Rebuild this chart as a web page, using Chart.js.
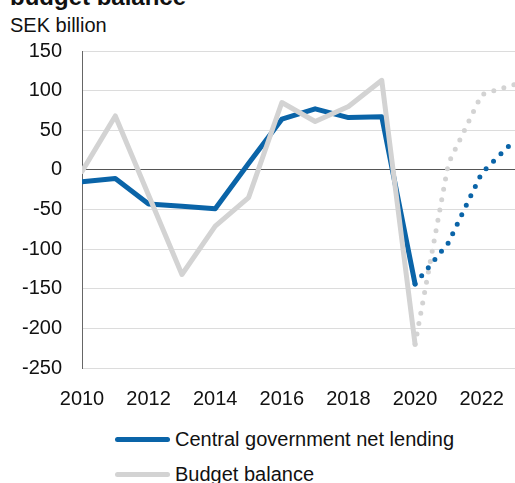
<!DOCTYPE html>
<html>
<head>
<meta charset="utf-8">
<script src="https://cdn.jsdelivr.net/npm/chart.js@4"></script>
<style>
  body { margin: 0; background: #fff; font-family: "Liberation Sans", Arial, sans-serif; color: #111; }
  #wrap { position: relative; width: 515px; height: 483px; overflow: hidden; }
  #chart { position: absolute; left: 0; top: 0; }
  .title { position: absolute; left: 10px; top: -15px; font-size: 24px; line-height: 24px; font-weight: bold; white-space: nowrap; }
  .unit { position: absolute; left: 10px; top: 15px; font-size: 20px; line-height: 20px; }
  .legend-row { position: absolute; left: 115px; height: 20px; font-size: 20px; line-height: 20px; white-space: nowrap; }
  .legend-row .swatch { position: absolute; left: 0; top: 8px; width: 55px; height: 5px; border-radius: 3px; }
  .legend-row .label { position: absolute; left: 60px; top: 0; }
</style>
</head>
<body>
<div id="wrap">
  <div class="title">budget balance</div>
  <div class="unit">SEK billion</div>
  <canvas id="chart" width="515" height="420"></canvas>
  <div class="legend-row" style="top:429px">
    <span class="swatch" style="background:#0a64a8"></span><span class="label">Central government net lending</span>
  </div>
  <div class="legend-row" style="top:464px">
    <span class="swatch" style="background:#d3d3d3"></span><span class="label">Budget balance</span>
  </div>
</div>
<script>
// Outcome years and values, SEK billion
const years = [2010, 2011, 2012, 2013, 2014, 2015, 2016, 2017, 2018, 2019, 2020];
const netLending = [-15, -11, -43, -46, -49, 8, 64, 77, 66, 67, -144];
const budgetBalance = [-2, 68, -32, -132, -71, -35, 85, 61, 80, 113, -220];

// Forecast years (dotted)
const forecastYears = [2020, 2021, 2022, 2023];
const netLendingForecast = [-144, -92, -4, 38];
const budgetBalanceForecast = [-220, 8, 95, 108];

const yTicks = [-250, -200, -150, -100, -50, 0, 50, 100, 150];

const BLUE = '#0a64a8';
const GREY = '#d3d3d3';

function toPoints(xs, ys) {
  return xs.map((x, i) => ({ x: x, y: ys[i] }));
}

const solid = { borderWidth: 5, pointRadius: 0, borderJoinStyle: 'round', borderCapStyle: 'round', tension: 0 };
const dotted = { borderWidth: 5, pointRadius: 0, borderCapStyle: 'round', borderDash: [0, 10.5], tension: 0 };

new Chart(document.getElementById('chart'), {
  type: 'line',
  data: {
    datasets: [
      Object.assign({ label: 'Budget balance', data: toPoints(years, budgetBalance), borderColor: GREY, order: 0 }, solid),
      Object.assign({ label: 'Central government net lending', data: toPoints(years, netLending), borderColor: BLUE, order: 1 }, solid),
      Object.assign({ label: 'Budget balance forecast', data: toPoints(forecastYears, budgetBalanceForecast), borderColor: GREY, order: 3 }, dotted),
      Object.assign({ label: 'Net lending forecast', data: toPoints(forecastYears, netLendingForecast), borderColor: BLUE, order: 2 }, dotted)
    ]
  },
  options: {
    responsive: false,
    animation: false,
    devicePixelRatio: 1,
    layout: { padding: { top: 51, right: 0, bottom: 0, left: 0 } },
    plugins: { legend: { display: false }, tooltip: { enabled: false } },
    scales: {
      x: {
        type: 'linear',
        min: 2010,
        max: 2023,
        grid: { display: false },
        border: { display: false },
        ticks: {
          stepSize: 2,
          includeBounds: false,
          autoSkip: false,
          maxRotation: 0,
          // small tick padding so the scale doesn't pull the right edge in;
          // the taller line height pushes the labels down instead
          padding: 5,
          color: '#111',
          font: { family: '"Liberation Sans", Arial, sans-serif', size: 20, lineHeight: '36px' },
          callback: v => String(v)
        },
        afterFit: s => { s.height = 52; }
      },
      y: {
        min: yTicks[0],
        max: yTicks[yTicks.length - 1],
        afterBuildTicks: s => { s.ticks = yTicks.map(v => ({ value: v })); },
        grid: {
          drawTicks: false,
          lineWidth: 1,
          color: c => (c.tick && c.tick.value === 0 ? '#555' : '#dcdcdc')
        },
        border: { display: true, color: '#666', width: 1 },
        ticks: {
          padding: 20,
          color: '#111',
          font: { family: '"Liberation Sans", Arial, sans-serif', size: 20 }
        },
        afterFit: s => { s.width = 82; }
      }
    }
  }
});
</script>
</body>
</html>
